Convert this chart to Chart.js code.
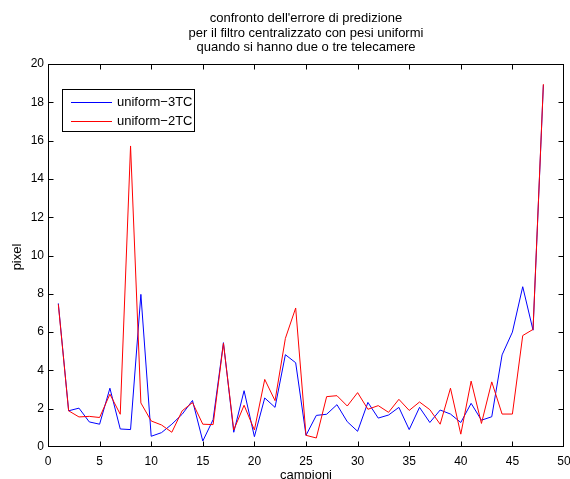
<!DOCTYPE html>
<html>
<head>
<meta charset="utf-8">
<script src="https://cdn.jsdelivr.net/npm/chart.js@4/dist/chart.umd.min.js"></script>
<style>
  html, body { margin: 0; padding: 0; background: #fff; }
  #wrap { width: 570px; height: 479px; }
</style>
</head>
<body>
<div id="wrap"><canvas id="c" width="570" height="479"></canvas></div>
<script>
// data
const campioni = [1,2,3,4,5,6,7,8,9,10,11,12,13,14,15,16,17,18,19,20,21,22,23,24,
  25,26,27,28,29,30,31,32,33,34,35,36,37,38,39,40,41,42,43,44,45,46,47,48];
const uniform3TC = [7.5,1.89,2.03,1.31,1.19,3.07,0.94,0.91,7.97,0.56,0.75,1.19,1.71,2.43,0.31,1.43,
  5.45,0.77,2.94,0.54,2.56,2.07,4.82,4.40,0.61,1.65,1.71,2.21,1.32,0.82,2.33,1.51,
  1.67,2.07,0.91,2.07,1.28,1.93,1.72,1.28,2.28,1.40,1.58,4.81,6.0,8.37,6.1,18.9];
const uniform2TC = [7.45,1.89,1.57,1.6,1.54,2.76,1.71,15.72,2.3,1.36,1.15,0.77,1.89,2.32,1.19,1.17,
  5.41,0.89,2.18,0.89,3.53,2.42,5.67,7.26,0.61,0.47,2.63,2.68,2.14,2.84,1.97,2.16,
  1.81,2.49,1.91,2.35,1.95,1.19,3.07,0.67,3.44,1.23,3.40,1.72,1.72,5.82,6.14,18.95];
const xTicks = [0,5,10,15,20,25,30,35,40,45,50];
const yTicks = [0,2,4,6,8,10,12,14,16,18,20];
const titleLines = ["confronto dell'errore di predizione",
  "per il filtro centralizzato con pesi uniformi",
  "quando si hanno due o tre telecamere"];

const FONT = '"Liberation Sans", Arial, sans-serif';

const pts = arr => campioni.map((x, i) => ({x: x, y: arr[i]}));

// matlab style frame, inward ticks, titles and boxed legend
const matlabLook = {
  id: 'matlabLook',
  afterDraw(chart) {
    const ctx = chart.ctx, a = chart.chartArea;
    const xs = chart.scales.x, ys = chart.scales.y;
    const L = Math.round(a.left) + 0.5, R = Math.round(a.right) - 0.5;
    const T = Math.round(a.top) + 0.5, B = Math.round(a.bottom) - 0.5;
    ctx.save();
    ctx.fillStyle = '#000';
    ctx.strokeStyle = '#000';
    ctx.lineWidth = 1;
    ctx.font = '13px ' + FONT;
    ctx.textAlign = 'center';
    ctx.textBaseline = 'middle';
    const cx = (a.left + a.right) / 2;
    titleLines.forEach((t, i) => ctx.fillText(t, cx, 18.5 + i * 14.5));
    ctx.fillText('campioni', cx, 475);
    ctx.save();
    ctx.translate(17, 257);
    ctx.rotate(-Math.PI / 2);
    ctx.fillText('pixel', 0, 0);
    ctx.restore();

    // frame
    ctx.strokeRect(L, T, R - L, B - T);
    ctx.beginPath();
    xTicks.forEach(v => {
      const p = Math.min(Math.max(Math.round(xs.getPixelForValue(v)) + 0.5, L), R);
      ctx.moveTo(p, B); ctx.lineTo(p, B - 5);
      ctx.moveTo(p, T); ctx.lineTo(p, T + 5);
    });
    yTicks.forEach(v => {
      const p = Math.min(Math.max(Math.round(ys.getPixelForValue(v)) + 0.5, T), B);
      ctx.moveTo(L, p); ctx.lineTo(L + 5, p);
      ctx.moveTo(R, p); ctx.lineTo(R - 5, p);
    });
    ctx.stroke();

    // legend
    const lx = 62, ly = 89, lw = 132, lh = 42;
    ctx.fillStyle = '#fff';
    ctx.fillRect(lx, ly, lw, lh);
    ctx.strokeRect(lx + 0.5, ly + 0.5, lw, lh);
    ctx.textAlign = 'left';
    chart.data.datasets.forEach((ds, i) => {
      const y = ly + 13.5 + i * 19;
      ctx.strokeStyle = ds.borderColor;
      ctx.beginPath();
      ctx.moveTo(71, y); ctx.lineTo(112, y);
      ctx.stroke();
      ctx.fillStyle = '#000';
      ctx.fillText(ds.label, 117, y);
    });
    ctx.restore();
  }
};

new Chart(document.getElementById('c'), {
  type: 'line',
  data: {
    datasets: [
      {label: 'uniform\u22123TC', data: pts(uniform3TC), borderColor: '#0000ff', order: 2},
      {label: 'uniform\u22122TC', data: pts(uniform2TC), borderColor: '#ff0000', order: 1}
    ]
  },
  options: {
    responsive: false,
    animation: false,
    layout: {padding: {top: 64, right: 6, left: 0, bottom: 0}},
    elements: {
      line: {borderWidth: 1, tension: 0, fill: false},
      point: {radius: 0}
    },
    plugins: {legend: {display: false}, tooltip: {enabled: false}},
    scales: {
      x: {
        type: 'linear', min: 0, max: 50,
        ticks: {stepSize: 5, color: '#000', padding: 7, font: {family: FONT, size: 12}, maxRotation: 0},
        grid: {display: false, drawTicks: false},
        border: {display: false},
        afterFit: s => { s.height = 32; s.paddingLeft = 0; s.paddingRight = 0; }
      },
      y: {
        min: 0, max: 20,
        ticks: {stepSize: 2, color: '#000', padding: 4, font: {family: FONT, size: 12}},
        grid: {display: false, drawTicks: false},
        border: {display: false},
        afterFit: s => { s.width = 48; s.paddingTop = 0; s.paddingBottom = 0; }
      }
    }
  },
  plugins: [matlabLook]
});
</script>
</body>
</html>
